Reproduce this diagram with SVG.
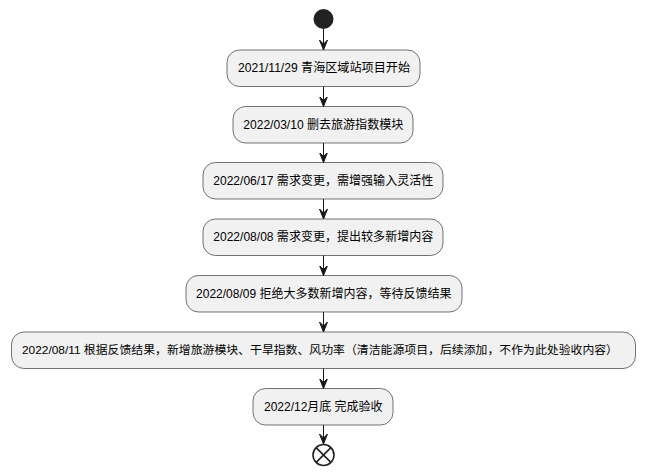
<svg xmlns="http://www.w3.org/2000/svg" width="647" height="475" viewBox="0 0 647 475">
<style>
.n rect{fill:#F1F1F1;stroke:#181818;stroke-width:0.6}
.n text{font-family:"Liberation Sans","Noto Sans CJK SC",sans-serif;font-size:12.5px;fill:#000;text-anchor:middle;dominant-baseline:central}
.c line{stroke:#181818;stroke-width:1}
</style>
<defs>
<marker id="ah" markerWidth="12" markerHeight="10" refX="10" refY="5" orient="auto" markerUnits="userSpaceOnUse" viewBox="0 0 12 10">
<path d="M0,1 L10,5 L0,9 L4,5 Z" fill="#181818" stroke="#181818" stroke-width="1" stroke-linejoin="miter"/>
</marker>
</defs>
<g id="start"><circle cx="323.5" cy="19" r="10" fill="#222222"/></g>
<g id="n1" class="n"><rect x="227" y="50" width="193" height="36.5" rx="12.5"/><text x="324" y="68.3" textLength="172" lengthAdjust="spacingAndGlyphs">2021/11/29 青海区域站项目开始</text></g>
<g id="n2" class="n"><rect x="233" y="106.5" width="180" height="36.5" rx="12.5"/><text x="323.3" y="124.8" textLength="160" lengthAdjust="spacingAndGlyphs">2022/03/10 删去旅游指数模块</text></g>
<g id="n3" class="n"><rect x="203" y="162.5" width="240" height="36.5" rx="12.5"/><text x="323.3" y="180.8" textLength="220" lengthAdjust="spacingAndGlyphs">2022/06/17 需求变更，需增强输入灵活性</text></g>
<g id="n4" class="n"><rect x="203" y="219" width="240" height="36.5" rx="12.5"/><text x="323.3" y="237.3" textLength="220" lengthAdjust="spacingAndGlyphs">2022/08/08 需求变更，提出较多新增内容</text></g>
<g id="n5" class="n"><rect x="186" y="275.5" width="276" height="36.5" rx="12.5"/><text x="323.8" y="293.8" textLength="255.5" lengthAdjust="spacingAndGlyphs">2022/08/09 拒绝大多数新增内容，等待反馈结果</text></g>
<g id="n6" class="n"><rect x="11.5" y="332" width="624" height="36.5" rx="12.5"/><text x="320" y="350.3" style="font-size:11.8px" textLength="596" lengthAdjust="spacingAndGlyphs">2022/08/11 根据反馈结果，新增旅游模块、干旱指数、风功率（清洁能源项目，后续添加，不作为此处验收内容）</text></g>
<g id="n7" class="n"><rect x="253" y="388.5" width="140" height="36.5" rx="12.5"/><text x="323.3" y="406.8" textLength="118.5" lengthAdjust="spacingAndGlyphs">2022/12月底 完成验收</text></g>
<g id="end"><circle cx="323.5" cy="455" r="10.5" fill="none" stroke="#222222" stroke-width="1.6"/><path d="M316.1,447.6 L330.9,462.4 M330.9,447.6 L316.1,462.4" stroke="#222222" stroke-width="1.6"/></g>
<g id="connectors" class="c">
<line x1="323.5" y1="29" x2="323.5" y2="50" marker-end="url(#ah)"/>
<line x1="323.5" y1="86.5" x2="323.5" y2="106.5" marker-end="url(#ah)"/>
<line x1="323.5" y1="143" x2="323.5" y2="162.5" marker-end="url(#ah)"/>
<line x1="323.5" y1="199" x2="323.5" y2="219" marker-end="url(#ah)"/>
<line x1="323.5" y1="255.5" x2="323.5" y2="275.5" marker-end="url(#ah)"/>
<line x1="323.5" y1="312" x2="323.5" y2="332" marker-end="url(#ah)"/>
<line x1="323.5" y1="368.5" x2="323.5" y2="388.5" marker-end="url(#ah)"/>
<line x1="323.5" y1="425" x2="323.5" y2="444" marker-end="url(#ah)"/>
</g>
</svg>
